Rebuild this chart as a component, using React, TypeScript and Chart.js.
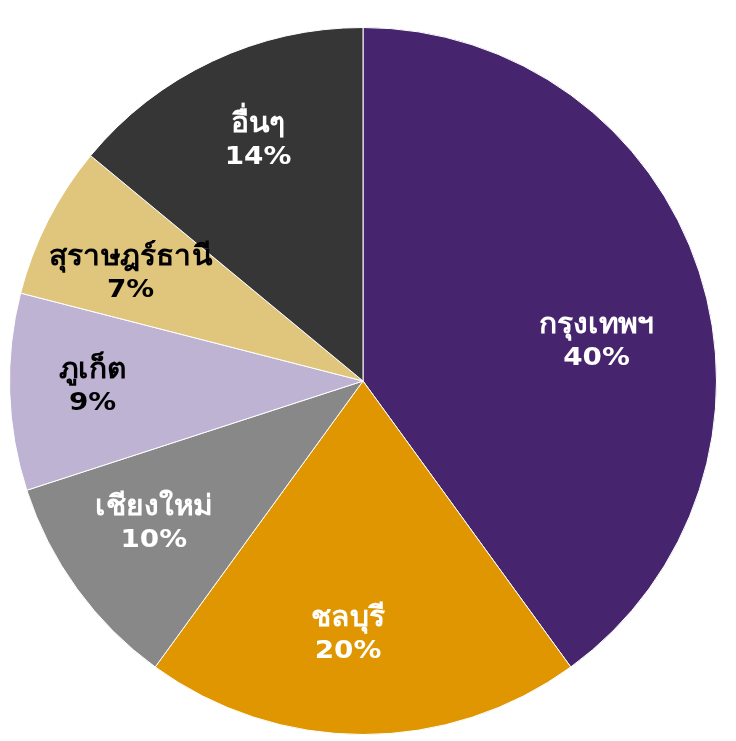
import React, { useEffect, useRef } from "react";
import { Chart, registerables } from "chart.js";

Chart.register(...registerables);

const provinces = ["กรุงเทพฯ", "ชลบุรี", "เชียงใหม่", "ภูเก็ต", "สุราษฎร์ธานี", "อื่นๆ"];
const shares = [40, 20, 10, 9, 7, 14];
const sliceColors = ["#46256E", "#E09600", "#888888", "#BFB3D4", "#E0C57C", "#363636"];
const labelColors = ["#FFFFFF", "#FFFFFF", "#FFFFFF", "#000000", "#000000", "#FFFFFF"];

// Label placement per slice: extra angle (degrees) from the slice's middle and a radius fraction
const labelAngleShift = [8.3, 3.4, 1.9, 0.7, -2.1, 1.7];
const labelRadius = [0.67, 0.716, 0.715, 0.765, 0.725, 0.745];

function drawWide(ctx: CanvasRenderingContext2D, text: string, x: number, y: number, sx: number) {
  ctx.save();
  ctx.translate(x, y);
  ctx.scale(sx, 1);
  ctx.fillText(text, 0, 0);
  ctx.restore();
}

const sliceLabels = {
  id: "sliceLabels",
  afterDatasetsDraw(chart: Chart) {
    const ctx = chart.ctx;
    const meta = chart.getDatasetMeta(0);
    ctx.save();
    ctx.textAlign = "center";
    ctx.textBaseline = "middle";
    meta.data.forEach((el: any, i: number) => {
      const { x, y, startAngle, endAngle, outerRadius } = el.getProps(
        ["x", "y", "startAngle", "endAngle", "outerRadius"],
        true
      );
      const mid = (startAngle + endAngle) / 2 + (labelAngleShift[i] * Math.PI) / 180;
      const r = outerRadius * labelRadius[i];
      const cx = x + Math.cos(mid) * r;
      const cy = y + Math.sin(mid) * r;
      ctx.fillStyle = labelColors[i];
      ctx.font = "bold 28px 'DejaVu Sans', Verdana, sans-serif";
      drawWide(ctx, provinces[i], cx, cy - 15, 1.07);
      ctx.font = "bold 24px 'DejaVu Sans', Verdana, sans-serif";
      drawWide(ctx, `${shares[i]}%`, cx, cy + 18, 1.16);
    });
    ctx.restore();
  },
};

export default function App() {
  const canvasRef = useRef<HTMLCanvasElement | null>(null);

  useEffect(() => {
    if (!canvasRef.current) return;
    const chart = new Chart(canvasRef.current, {
      type: "pie",
      data: {
        labels: provinces,
        datasets: [
          {
            data: shares,
            backgroundColor: sliceColors,
            borderColor: "#FFFFFF",
            borderWidth: 1,
          },
        ],
      },
      options: {
        responsive: false,
        animation: false,
        layout: { padding: { left: 9, right: 19, top: 27, bottom: 6 } },
        plugins: {
          legend: { display: false },
          tooltip: { enabled: false },
        },
      },
      plugins: [sliceLabels],
    });
    return () => chart.destroy();
  }, []);

  return (
    <div style={{ position: "fixed", left: 0, top: 0, width: 736, height: 741, background: "#FFFFFF" }}>
      <canvas ref={canvasRef} width={736} height={741} />
    </div>
  );
}
